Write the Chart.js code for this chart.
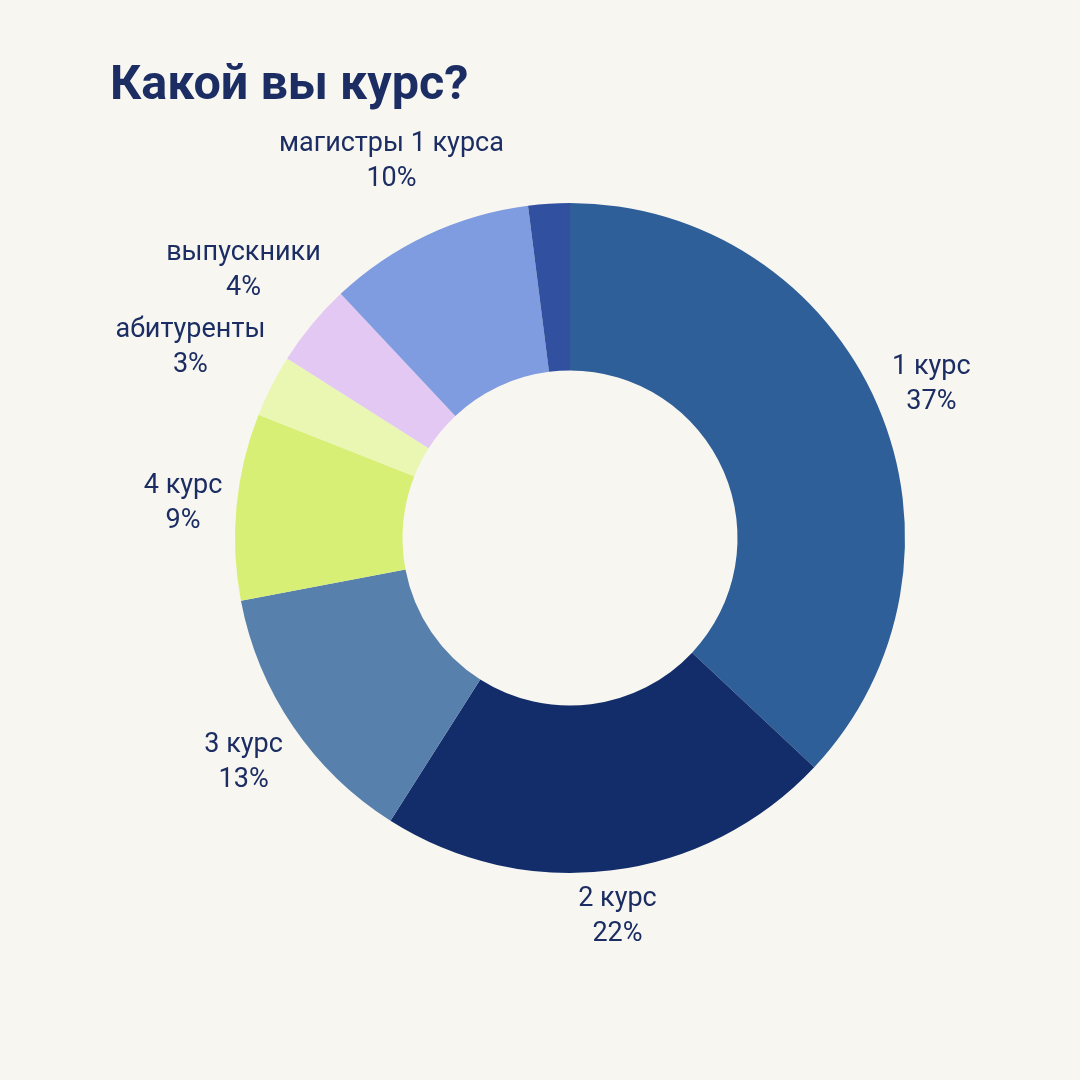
<!DOCTYPE html>
<html>
<head>
<meta charset="utf-8">
<script src="https://cdn.jsdelivr.net/npm/chart.js@4"></script>
<style>
html,body{margin:0;padding:0;background:#f7f6f0;}
#wrap{width:1080px;height:1080px;position:relative;}
</style>
</head>
<body>
<div id="wrap"><canvas id="c" width="1080" height="1080"></canvas></div>
<script>
const titleText = "Какой вы курс?";
const categories = ["1 курс", "2 курс", "3 курс", "4 курс", "абитуренты", "выпускники", "магистры 1 курса", ""];
const values = [37, 22, 13, 9, 3, 4, 10, 2];
const percentLabels = ["37%", "22%", "13%", "9%", "3%", "4%", "10%", ""];
const colors = ["#2f5f98", "#122d6a", "#5880ad", "#d8ef76", "#eaf7b3", "#e2c8f2", "#7f9ce0", "#3250a0"];

const textColor = "#1b2d62";

const labelPlugin = {
  id: 'outLabels',
  afterDatasetsDraw(chart) {
    const ctx = chart.ctx;
    const meta = chart.getDatasetMeta(0);
    ctx.save();
    ctx.font = '400 27px Roboto';
    ctx.fillStyle = textColor;
    ctx.textAlign = 'center';
    ctx.textBaseline = 'alphabetic';
    meta.data.forEach((arc, i) => {
      if (!categories[i]) return;
      const p = arc.getProps(['x','y','startAngle','endAngle','outerRadius'], true);
      const mid = (p.startAngle + p.endAngle) / 2;
      const dx = Math.cos(mid), dy = Math.sin(mid);
      const lines = [categories[i], percentLabels[i]];
      const w = Math.max(...lines.map(l => ctx.measureText(l).width));
      const h = 54;
      const dist = p.outerRadius + 12 + Math.abs(dx) * w / 2 + Math.abs(dy) * h / 2;
      const cx = p.x + dx * dist;
      const cy = p.y + dy * dist;
      const b1 = cy - h / 2 + 19;
      ctx.fillText(lines[0], cx, b1);
      ctx.fillText(lines[1], cx, b1 + 35);
    });
    ctx.restore();
  }
};

const titlePlugin = {
  id: 'titleText',
  afterDraw(chart) {
    const ctx = chart.ctx;
    ctx.save();
    ctx.font = '700 48.5px Roboto';
    ctx.fillStyle = textColor;
    ctx.textAlign = 'left';
    ctx.textBaseline = 'alphabetic';
    ctx.fillText(titleText, 110, 99);
    ctx.restore();
  }
};

const bgPlugin = {
  id: 'bg',
  beforeDraw(chart) {
    const ctx = chart.ctx;
    ctx.save();
    ctx.fillStyle = '#f7f6f0';
    ctx.fillRect(0, 0, chart.width, chart.height);
    ctx.restore();
  }
};

new Chart(document.getElementById('c'), {
  type: 'doughnut',
  data: {
    labels: categories,
    datasets: [{
      data: values,
      backgroundColor: colors,
      borderWidth: 0
    }]
  },
  options: {
    responsive: false,
    animation: false,
    cutout: '50%',
    layout: { padding: { left: 235, right: 175, top: 203, bottom: 207 } },
    plugins: {
      legend: { display: false },
      tooltip: { enabled: false },
      title: { display: false }
    }
  },
  plugins: [bgPlugin, labelPlugin, titlePlugin]
});
</script>
</body>
</html>
